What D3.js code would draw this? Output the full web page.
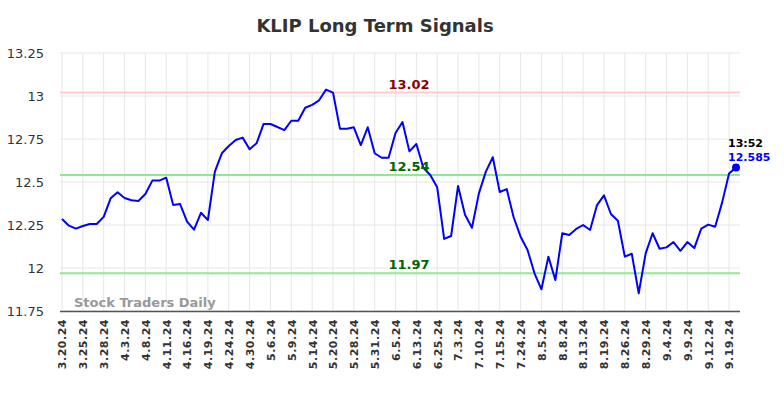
<!DOCTYPE html>
<html>
<head>
<meta charset="utf-8">
<script src="https://cdn.jsdelivr.net/npm/d3@7"></script>
<style>
  body { margin: 0; background: #fff; }
  svg { display: block; font-family: "DejaVu Sans", sans-serif; }
</style>
</head>
<body>
<svg width="784" height="398"></svg>
<script>
// closing prices, one per trading session
const prices = [
  12.285, 12.246, 12.229, 12.244, 12.256, 12.256, 12.297, 12.405, 12.44, 12.407,
  12.394, 12.39, 12.43, 12.508, 12.508, 12.525, 12.366, 12.372, 12.27, 12.223,
  12.321, 12.279, 12.56, 12.667, 12.709, 12.744, 12.758, 12.69, 12.725, 12.837,
  12.837, 12.82, 12.802, 12.856, 12.856, 12.932, 12.948, 12.975, 13.037, 13.02,
  12.81, 12.81, 12.818, 12.715, 12.818, 12.667, 12.641, 12.641, 12.785, 12.849,
  12.678, 12.721, 12.583, 12.541, 12.469, 12.169, 12.186, 12.477, 12.31, 12.234,
  12.434, 12.56, 12.644, 12.442, 12.459, 12.295, 12.182, 12.105, 11.969, 11.876,
  12.066, 11.93, 12.202, 12.192, 12.227, 12.25, 12.221, 12.366, 12.422, 12.314,
  12.275, 12.066, 12.083, 11.853, 12.085, 12.202, 12.112, 12.12, 12.151, 12.1,
  12.151, 12.116, 12.229, 12.252, 12.24, 12.38, 12.55, 12.585
]

// one label every third session
const tickLabels = [
  '3.20.24', '3.25.24', '3.28.24', '4.3.24', '4.8.24', '4.11.24', '4.16.24', '4.19.24',
  '4.24.24', '4.30.24', '5.6.24', '5.9.24', '5.14.24', '5.20.24', '5.28.24', '5.31.24',
  '6.5.24', '6.13.24', '6.25.24', '7.3.24', '7.10.24', '7.15.24', '7.24.24', '8.5.24',
  '8.8.24', '8.13.24', '8.19.24', '8.26.24', '8.29.24', '9.4.24', '9.9.24', '9.12.24', '9.19.24'
]
const tickStep = 3

const yTicks = [11.75, 12, 12.25, 12.5, 12.75, 13, 13.25]
const resistance = [13.02]
const supports = [12.54, 11.97]
const lastTime = '13:52'

const svg = d3.select('svg')

//scales
const x = d3.scaleLinear()
    .domain([0, prices.length - 1])
    .range([62, 736])
const y = d3.scaleLinear()
    .domain([11.75, 13.25])
    .range([311, 53])

//grid
svg.append('g')
    .selectAll('line')
    .data(yTicks)
    .enter()
    .append('line')
    .attr('x1', 60)
    .attr('x2', 740)
    .attr('y1', d => y(d))
    .attr('y2', d => y(d))
    .attr('stroke', '#e6e6e6')
    .attr('stroke-width', 1)

svg.append('g')
    .selectAll('line')
    .data(tickLabels)
    .enter()
    .append('line')
    .attr('x1', (_, i) => x(i * tickStep))
    .attr('x2', (_, i) => x(i * tickStep))
    .attr('y1', 53)
    .attr('y2', 311)
    .attr('stroke', '#e6e6e6')
    .attr('stroke-width', 1)

//y axis
const yAxis = d3.axisLeft(y)
    .tickValues(yTicks)
    .tickFormat(d => d3.format('')(d))
    .tickSize(0)
    .tickPadding(0)
svg.append('g')
    .attr('transform', 'translate(44,0)')
    .call(yAxis)
    .call(g => g.select('.domain').remove())
    .selectAll('text')
    .style('font-size', '13px')
    .style('fill', '#333')
    .style('font-family', '"DejaVu Sans", sans-serif')

//x axis
const xAxis = d3.axisBottom(x)
    .tickValues(tickLabels.map((_, i) => i * tickStep))
    .tickFormat((_, i) => tickLabels[i])
    .tickSize(0)
svg.append('g')
    .attr('transform', 'translate(0,311)')
    .call(xAxis)
    .call(g => g.select('.domain').remove())
    .selectAll('text')
    .attr('transform', 'rotate(-90)')
    .attr('text-anchor', 'end')
    .attr('x', -8)
    .attr('y', 0)
    .attr('dy', '0.35em')
    .style('font-size', '11px')
    .style('font-weight', 'bold')
    .style('letter-spacing', '0.5px')
    .style('fill', '#333')
    .style('font-family', '"DejaVu Sans", sans-serif')

svg.append('line')
    .attr('x1', 60)
    .attr('x2', 740)
    .attr('y1', 311.5)
    .attr('y2', 311.5)
    .attr('stroke', '#555')
    .attr('stroke-width', 1.5)

//signal lines
svg.append('g')
    .selectAll('line')
    .data(resistance)
    .enter()
    .append('line')
    .attr('x1', 60)
    .attr('x2', 740)
    .attr('y1', d => y(d))
    .attr('y2', d => y(d))
    .attr('stroke', '#ffcccc')
    .attr('stroke-width', 2)

svg.append('g')
    .selectAll('line')
    .data(supports)
    .enter()
    .append('line')
    .attr('x1', 60)
    .attr('x2', 740)
    .attr('y1', d => y(d))
    .attr('y2', d => y(d))
    .attr('stroke', '#90e890')
    .attr('stroke-width', 2)

//watermark
svg.append('text')
    .attr('x', 74)
    .attr('y', 307)
    .style('font-size', '13px')
    .style('font-weight', 'bold')
    .style('fill', '#999')
    .text('Stock Traders Daily')

//price line
const line = d3.line()
    .x((_, i) => x(i))
    .y(d => y(d))
svg.append('path')
    .datum(prices)
    .attr('fill', 'none')
    .attr('stroke', '#0000ff')
    .attr('stroke-width', 2)
    .attr('stroke-linejoin', 'round')
    .attr('d', line)

//signal labels
svg.append('g')
    .selectAll('text')
    .data(resistance)
    .enter()
    .append('text')
    .attr('x', 409)
    .attr('y', d => y(d) - 4)
    .attr('text-anchor', 'middle')
    .style('font-size', '13px')
    .style('font-weight', 'bold')
    .style('fill', '#8b0000')
    .text(d => d.toFixed(2))

svg.append('g')
    .selectAll('text')
    .data(supports)
    .enter()
    .append('text')
    .attr('x', 409)
    .attr('y', d => y(d) - 4)
    .attr('text-anchor', 'middle')
    .style('font-size', '13px')
    .style('font-weight', 'bold')
    .style('fill', '#006400')
    .text(d => d.toFixed(2))

//last point
const lastI = prices.length - 1
svg.append('circle')
    .attr('cx', x(lastI))
    .attr('cy', y(prices[lastI]))
    .attr('r', 4)
    .attr('fill', '#0000ff')

svg.append('text')
    .attr('x', x(lastI) - 8)
    .attr('y', y(prices[lastI]) - 20)
    .style('font-size', '11px')
    .style('font-weight', 'bold')
    .style('fill', '#000')
    .text(lastTime)

svg.append('text')
    .attr('x', x(lastI) - 8)
    .attr('y', y(prices[lastI]) - 6)
    .style('font-size', '11px')
    .style('font-weight', 'bold')
    .style('fill', '#0000ff')
    .text(prices[lastI])

//title
svg.append('text')
    .attr('x', 375)
    .attr('y', 32)
    .attr('text-anchor', 'middle')
    .style('font-size', '18px')
    .style('font-weight', 'bold')
    .style('fill', '#333')
    .text('KLIP Long Term Signals')
</script>
</body>
</html>
